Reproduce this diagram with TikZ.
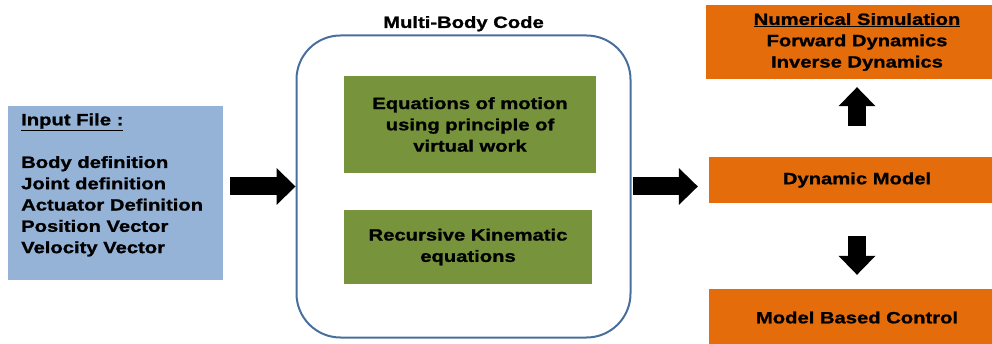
\documentclass[tikz,border=0pt]{standalone}
\usepackage{fontspec}
\setmainfont{Liberation Sans}[FakeStretch=1.24,BoldFeatures={FakeBold=1.2}]
\usetikzlibrary{arrows.meta}
\definecolor{inputblue}{HTML}{95B3D7}
\definecolor{eqgreen}{HTML}{77933C}
\definecolor{simorange}{HTML}{E46C0A}
\definecolor{codeframe}{HTML}{4A6E9C}
\tikzset{
	% Box styles: input file, equation blocks and output blocks
	input box/.style={rectangle,fill=inputblue,minimum width=215pt,minimum height=174pt,inner sep=0pt},
	eq box/.style={rectangle,fill=eqgreen,align=center,inner sep=0pt},
	out box/.style={rectangle,fill=simorange,minimum width=296pt,align=center,inner sep=0pt},
	% Thick block arrows between the boxes
	block arrow/.style={line width=18pt,-{Triangle[length=19pt,width=37pt,line width=0pt]}}
}

\begin{document}
\begin{tikzpicture}[x=1pt,y=-1pt,font=\fontsize{16.3}{21.3}\selectfont\bfseries]
			\useasboundingbox (0,0) rectangle (992,344);
			
			% Input file on the left
			\node(input)[input box] at (115.5,193) {};
			\node(inputtext)[anchor=north west,align=left,inner sep=0pt] at (21,113.3)
				{\underline{Input File :}\\[21.3pt]Body definition\\Joint definition\\Actuator Definition\\Position Vector\\Velocity Vector};
			
			% Multi-body code with its two blocks
			\node(mbc)[draw=codeframe,line width=2pt,rounded corners=44pt,minimum width=334pt,minimum height=302pt,
				label={[inner sep=0pt,label distance=3pt]above:Multi-Body Code}] at (463.5,186.5) {};
			\node(eqmotion)[eq box,minimum width=252pt,minimum height=97pt] at (470,124.5)
				{Equations of motion\\using principle of\\virtual work};
			\node(kinematic)[eq box,minimum width=248pt,minimum height=74pt] at (468,247)
				{Recursive Kinematic\\equations};
			
			% Outputs on the right
			\node(numsim)[out box,minimum width=302pt,minimum height=74pt] at (857,42)
				{\underline{Numerical Simulation}\\Forward Dynamics\\Inverse Dynamics};
			\node(dynmodel)[out box,minimum height=46pt] at (857,180) {Dynamic Model};
			\node(control)[out box,minimum height=57pt] at (857,317.5) {Model Based Control};
			
			\draw[block arrow,shorten <=7pt] (input.east |- mbc.west) -- (mbc.west);
			\draw[block arrow,shorten <=1.5pt,shorten >=11pt] (mbc.east) -- (mbc.east -| dynmodel.west);
			\draw[block arrow,shorten <=31pt,shorten >=8pt] (dynmodel.north) -- (numsim.south);
			\draw[block arrow,shorten <=33pt,shorten >=14pt] (dynmodel.south) -- (control.north);
		\end{tikzpicture}
\end{document}
